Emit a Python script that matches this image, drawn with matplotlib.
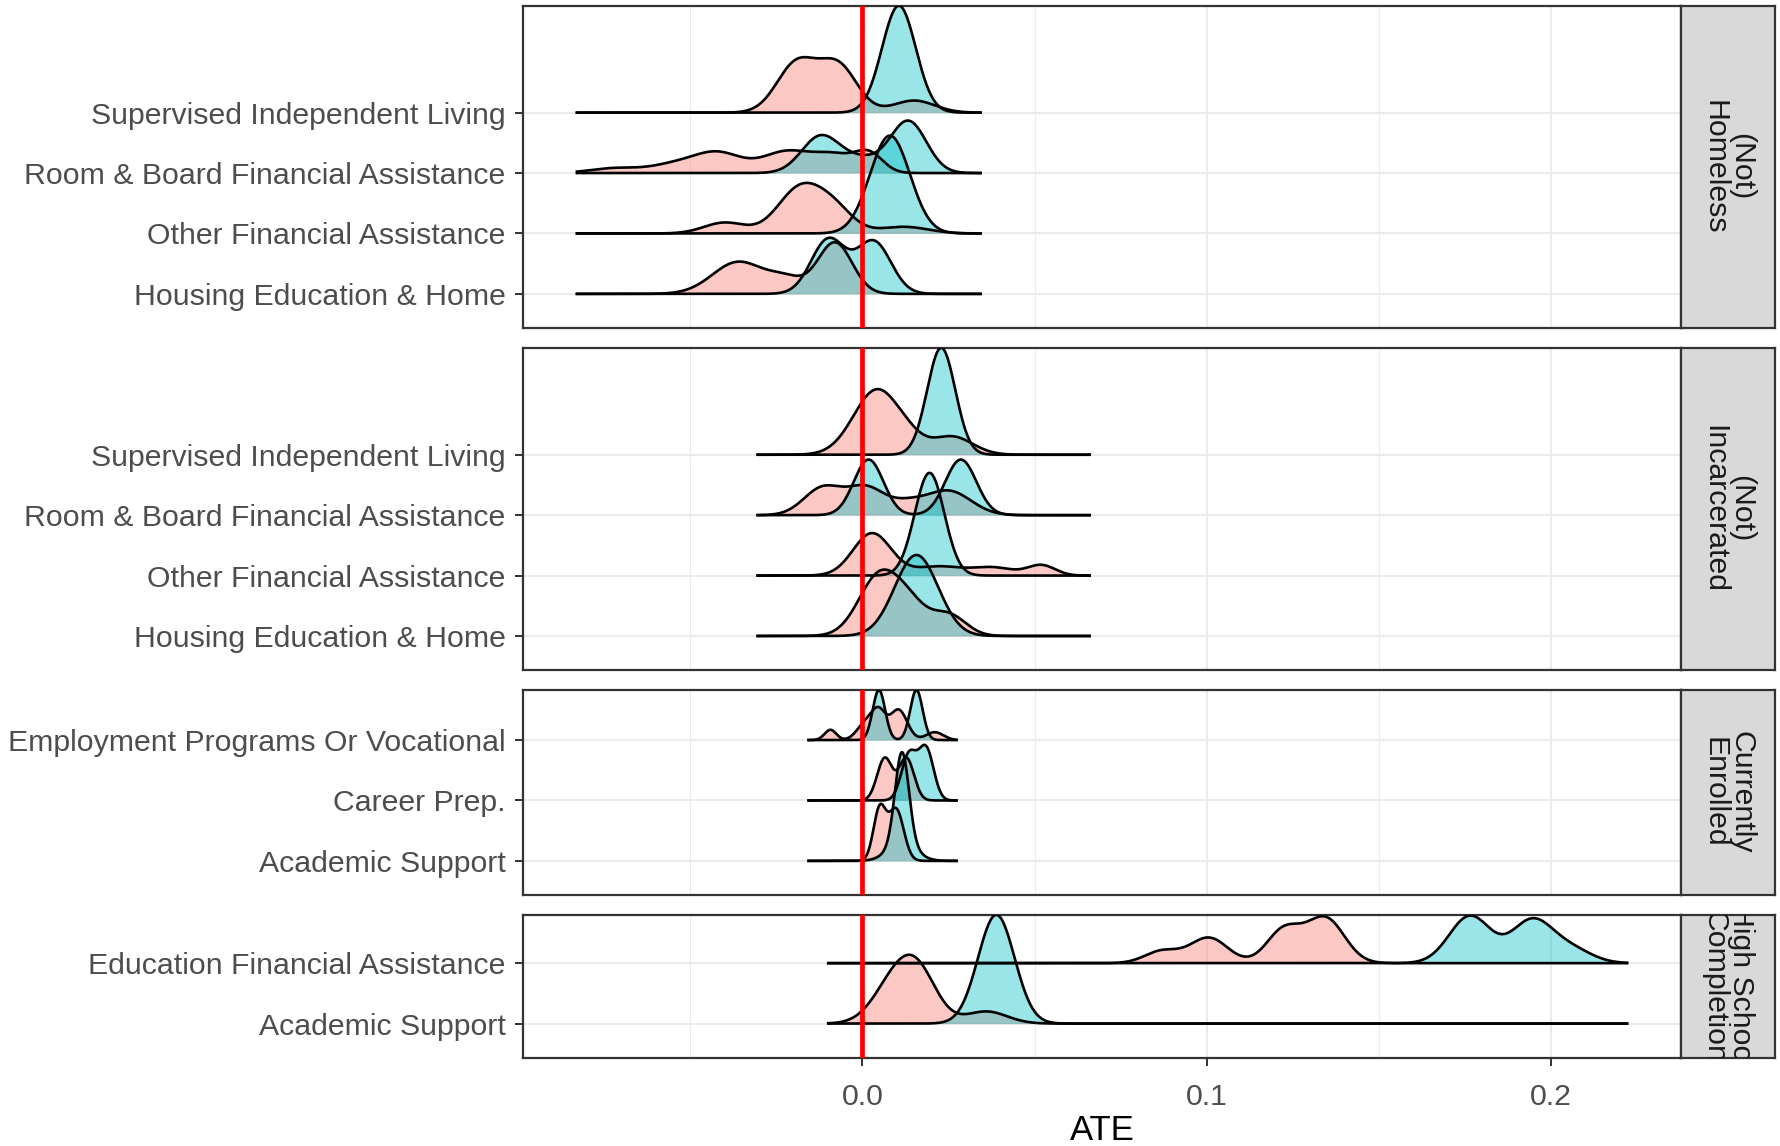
import numpy as np
import matplotlib
matplotlib.use("Agg")
import matplotlib.pyplot as plt

plt.rcParams['font.family'] = ['Liberation Sans', 'DejaVu Sans']

### Data ###
# Each ridge is given as the modes:
# (ATE at the mode, spread of the mode, height in row units)

# (Not) Homeless
homeless_labels = ["Housing Education & Home", "Other Financial Assistance",
                   "Room & Board Financial Assistance", "Supervised Independent Living"]
homeless_span = [-0.0833, 0.0347]
homeless_pink = [
    [(-0.036, 0.0075, 0.53), (-0.022, 0.005, 0.22), (-0.008, 0.005, 0.85)],
    [(-0.040, 0.006, 0.18), (-0.018, 0.0065, 0.75), (-0.008, 0.0055, 0.35), (0.012, 0.007, 0.11)],
    [(-0.072, 0.007, 0.08), (-0.055, 0.007, 0.13), (-0.042, 0.007, 0.33), (-0.022, 0.007, 0.35),
     (-0.008, 0.006, 0.28), (0.002, 0.004, 0.30)],
    [(-0.019, 0.0058, 0.82), (-0.007, 0.0055, 0.76), (0.015, 0.006, 0.20)],
]
homeless_cyan = [
    [(-0.0099, 0.005, 0.90), (0.0033, 0.005, 0.86)],
    [(0.008, 0.0058, 1.62)],
    [(-0.0122, 0.0055, 0.60), (0.0, 0.006, 0.22), (0.0134, 0.0052, 0.85)],
    [(0.0106, 0.0049, 1.77)],
]

# (Not) Incarcerated
incarc_labels = homeless_labels
incarc_span = [-0.0308, 0.0664]
incarc_pink = [
    [(0.005, 0.006, 1.00), (0.014, 0.005, 0.40), (0.025, 0.005, 0.35)],
    [(0.0028, 0.0055, 0.70), (0.022, 0.007, 0.15), (0.038, 0.006, 0.13), (0.052, 0.004, 0.17)],
    [(-0.0115, 0.0055, 0.45), (0.001, 0.0055, 0.45), (0.013, 0.005, 0.17), (0.025, 0.0065, 0.40)],
    [(0.0043, 0.0068, 1.08), (0.014, 0.004, 0.10), (0.026, 0.006, 0.30)],
]
incarc_cyan = [
    [(0.0157, 0.0063, 1.34)],
    [(0.0195, 0.0043, 1.70)],
    [(0.0018, 0.0043, 0.92), (0.0286, 0.0045, 0.92)],
    [(0.0229, 0.0041, 1.77)],
]

# Currently Enrolled
enrolled_labels = ["Academic Support", "Career Prep.", "Employment Programs Or Vocational"]
enrolled_span = [-0.016, 0.0277]
enrolled_pink = [
    [(0.005, 0.0018, 0.85), (0.0098, 0.0022, 0.85)],
    [(0.0065, 0.0022, 0.70), (0.0128, 0.0022, 0.70)],
    [(-0.0093, 0.0017, 0.17), (0.001, 0.0025, 0.28), (0.0048, 0.002, 0.42),
     (0.0105, 0.0025, 0.50), (0.021, 0.0025, 0.13)],
]
enrolled_cyan = [
    [(0.0115, 0.002, 1.50), (0.0115, 0.004, 0.30)],
    [(0.0135, 0.0022, 0.75), (0.0185, 0.0022, 0.85)],
    [(0.0048, 0.0018, 0.83), (0.0157, 0.0018, 0.83)],
]

# High School Completion
completion_labels = ["Academic Support", "Education Financial Assistance"]
completion_span = [-0.0103, 0.2225]
completion_pink = [
    [(0.0095, 0.0062, 0.68), (0.0165, 0.0055, 0.68), (0.036, 0.006, 0.20)],
    [(0.087, 0.005, 0.20), (0.1006, 0.0055, 0.42), (0.1225, 0.005, 0.55), (0.1345, 0.0055, 0.74)],
]
completion_cyan = [
    [(0.0389, 0.0053, 1.80)],
    [(0.1765, 0.006, 0.78), (0.1945, 0.006, 0.70), (0.206, 0.006, 0.22)],
]

strip_names = ["(Not)\nHomeless", "(Not)\nIncarcerated", "Currently\nEnrolled", "High School\nCompletion"]
x_ticks = [0.0, 0.1, 0.2]
x_tick_labels = ["0.0", "0.1", "0.2"]

panels = [
    (homeless_labels, homeless_span, homeless_pink, homeless_cyan),
    (incarc_labels, incarc_span, incarc_pink, incarc_cyan),
    (enrolled_labels, enrolled_span, enrolled_pink, enrolled_cyan),
    (completion_labels, completion_span, completion_pink, completion_cyan),
]

pink = '#F8766D'
cyan = '#00BFC4'
border = '#333333'
grid_col = '#EBEBEB'


def ridge(x, modes):
    h = np.zeros_like(x)
    for mu, sd, amp in modes:
        h += amp * np.exp(-0.5 * ((x - mu) / sd) ** 2)
    return h


# shared x range (ggplot expands data range by 5%)
lo = min(p[1][0] for p in panels)
hi = max(p[1][1] for p in panels)
xlim = (lo - 0.05 * (hi - lo), hi + 0.05 * (hi - lo))

# compute curves and y ranges of each panel
bottom_pad = 0.57
curves = []
ylims = []
for labels, span, pk, cy in panels:
    x = np.linspace(span[0], span[1], 800)
    rows = [(ridge(x, pk[i]), ridge(x, cy[i])) for i in range(len(labels))]
    top = max(i + max(a.max(), b.max()) for i, (a, b) in enumerate(rows))
    curves.append((x, rows))
    ylims.append((-bottom_pad, top))

heights = [t - b for b, t in ylims]

W, H = 1780, 1146
fig = plt.figure(figsize=(W / 100, H / 100), dpi=100)
gap = 19.5
total = 1058 - 5.7
avg_h = (total - 3 * gap) / 4
gs = fig.add_gridspec(4, 2, width_ratios=[1158, 94], height_ratios=heights,
                      left=523 / W, right=1775 / W, top=1 - 5.7 / H, bottom=1 - 1058 / H,
                      hspace=gap / avg_h, wspace=0)

for k, (labels, span, pk, cy) in enumerate(panels):
    ax = fig.add_subplot(gs[k, 0])
    x, rows = curves[k]

    # draw ridges from the top row down, pink first then cyan
    for i in reversed(range(len(labels))):
        hp, hc = rows[i]
        for h, col in ((hp, pink), (hc, cyan)):
            ax.fill_between(x, i, i + h, color=col, alpha=0.4, lw=0, zorder=2)
            ax.plot(x, i + h, color='black', lw=1.9, zorder=3, solid_capstyle='butt')

    ax.axvline(0, color='red', lw=3.4, zorder=10)

    ax.set_xlim(xlim)
    ax.set_ylim(ylims[k])
    ax.set_yticks(range(len(labels)))
    ax.set_yticklabels(labels)
    ax.set_xticks(x_ticks)
    ax.set_xticks([-0.05, 0.05, 0.15], minor=True)
    ax.set_xticklabels(x_tick_labels)

    ax.set_axisbelow(True)
    ax.grid(which='major', color=grid_col, lw=1.5)
    ax.grid(which='minor', axis='x', color=grid_col, lw=0.8)

    for s in ax.spines.values():
        s.set_color(border)
        s.set_linewidth(1.6)

    ax.tick_params(which='major', length=6, width=1.4, color=border,
                   labelcolor='#4D4D4D', labelsize=21.8)
    ax.tick_params(axis='y', pad=6.5)
    ax.tick_params(axis='x', pad=12)
    ax.tick_params(which='minor', length=0)
    if k < 3:
        ax.tick_params(axis='x', which='both', bottom=False, labelbottom=False)

    # facet strip on the right
    sax = fig.add_subplot(gs[k, 1])
    sax.set_facecolor('#D9D9D9')
    sax.set_xticks([])
    sax.set_yticks([])
    for s in sax.spines.values():
        s.set_color(border)
        s.set_linewidth(1.6)
    sax.text(0.5, 0.5, strip_names[k], rotation=-90, ha='center', va='center',
             transform=sax.transAxes, fontsize=21.8, color='#1A1A1A',
             linespacing=0.95, clip_on=True)

fig.text(1102 / W, 1 - 1131 / H, "ATE", ha='center', va='center', fontsize=25, color='black')

plt.savefig('out.png', dpi=100)
